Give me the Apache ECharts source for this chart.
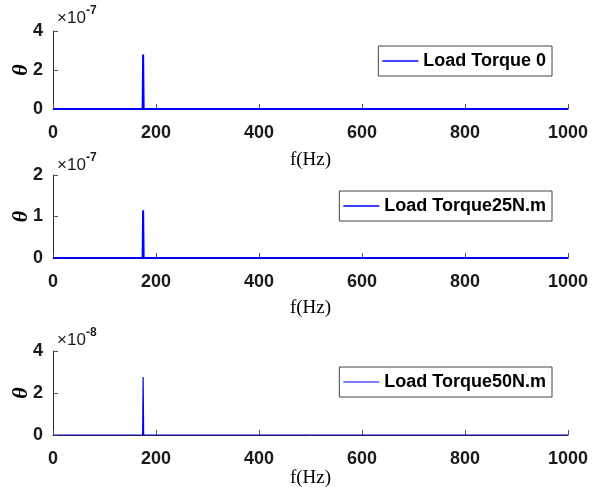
<!DOCTYPE html>
<html>
<head>
<meta charset="utf-8">
<script src="https://cdn.jsdelivr.net/npm/echarts@6/dist/echarts.min.js"></script>
<style>
  html, body { margin: 0; padding: 0; background: #fff; }
  #chart { width: 600px; height: 494px; }
</style>
</head>
<body>
<div id="chart"></div>
<script>
// Frequency samples (Hz) around the fundamental and its harmonics
const freqHz = [0, 174, 175, 176, 349, 350, 351, 524, 525, 526, 699, 700, 701, 874, 875, 876, 1000];

// Spectrum amplitude of theta for each load torque
const thetaLoad0  = [0, 0, 2.80e-7, 0, 0, 2.0e-9, 0, 0, 1.0e-9, 0, 0, 0.8e-9, 0, 0, 0.6e-9, 0, 0];
const thetaLoad25 = [0, 0, 1.15e-7, 0, 0, 2.5e-9, 0, 0, 1.0e-9, 0, 0, 0.8e-9, 0, 0, 0.6e-9, 0, 0];
const thetaLoad50 = [0, 0, 2.76e-8, 0, 0, 4.0e-10, 0, 0, 5.0e-10, 0, 0, 5.0e-10, 0, 0, 5.0e-10, 0, 0];

const seriesNames = ['Load Torque 0', 'Load Torque25N.m', 'Load Torque50N.m'];
const yMax = [4e-7, 2e-7, 4e-8];
const yStep = [2e-7, 1e-7, 2e-8];
const yScale = [1e-7, 1e-7, 1e-8];
const exponents = ['-7', '-7', '-8'];

const panels = [
  { top: 31,  height: 78, lw: 2,   legendTop: 46,  nameGap: 51, labelMargin: 15, expY: 20 },
  { top: 175, height: 83, lw: 2,   legendTop: 191, nameGap: 50, labelMargin: 15, expY: 167 },
  { top: 351, height: 84, lw: 1.2, legendTop: 367, nameGap: 43, labelMargin: 15, expY: 342 }
];
const dataSets = [thetaLoad0, thetaLoad25, thetaLoad50];

const axisColor = '#262626';
const sansBold = { fontFamily: 'Liberation Sans, Arial, sans-serif', fontWeight: 'bold', fontSize: 18, color: '#1a1a1a' };

const grids = [], xAxes = [], yAxes = [], series = [], legends = [], graphics = [];

panels.forEach((p, i) => {
  grids.push({ left: 53, right: 32, top: p.top, height: p.height, containLabel: false, outerBoundsMode: 'none' });
  xAxes.push({
    type: 'value', gridIndex: i, min: 0, max: 1000, interval: 200,
    name: 'f(Hz)', nameLocation: 'middle', nameGap: p.nameGap, nameMoveOverlap: false,
    nameTextStyle: { fontFamily: 'Liberation Serif, Times New Roman, serif', fontSize: 19, color: '#000', verticalAlign: 'middle' },
    axisLine: { show: true, lineStyle: { color: axisColor, width: 1 } },
    axisTick: { show: true, inside: true, length: 5, lineStyle: { color: '#555' } },
    axisLabel: Object.assign({ margin: p.labelMargin, formatter: v => String(v) }, sansBold),
    splitLine: { show: false }
  });
  yAxes.push({
    type: 'value', gridIndex: i, min: 0, max: yMax[i], interval: yStep[i],
    name: 'θ', nameLocation: 'middle', nameGap: 32, nameRotate: 90, nameMoveOverlap: false,
    nameTextStyle: { fontFamily: 'Liberation Serif, Times New Roman, serif', fontStyle: 'italic', fontWeight: 'bold', fontSize: 22, color: '#000', verticalAlign: 'middle' },
    axisLine: { show: true, lineStyle: { color: axisColor, width: 1 } },
    axisTick: { show: true, inside: true, length: 5, lineStyle: { color: '#555' } },
    axisLabel: Object.assign({ margin: 10, formatter: v => String(Math.round(v / yScale[i])) }, sansBold),
    splitLine: { show: false }
  });
  series.push({
    name: seriesNames[i], type: 'line', xAxisIndex: i, yAxisIndex: i,
    data: freqHz.map((f, k) => [f, dataSets[i][k]]),
    showSymbol: false, symbol: 'none', animation: false,
    lineStyle: { color: '#0000ff', width: p.lw },
    itemStyle: { color: '#0000ff' }
  });
  legends.push({
    data: [seriesNames[i]], right: 48, top: p.legendTop,
    padding: [6, 6, 6, 4], borderColor: '#444', borderWidth: 1, backgroundColor: '#fff',
    icon: 'rect', itemWidth: 36, itemHeight: p.lw === 2 ? 1.6 : 1.2, itemGap: 4, selectedMode: false,
    textStyle: Object.assign({}, sansBold, { color: '#000', padding: [0, 0, 0, 0] })
  });
  graphics.push({
    type: 'text', left: 57, top: p.expY - 10,
    style: { text: '×10', fontFamily: 'Liberation Sans, Arial, sans-serif', fontSize: 17, fill: '#1a1a1a' }
  });
  graphics.push({
    type: 'text', left: 86, top: p.expY - 15,
    style: { text: exponents[i], fontFamily: 'Liberation Sans, Arial, sans-serif', fontWeight: 'bold', fontSize: 12, fill: '#1a1a1a' }
  });
});

const chart = echarts.init(document.getElementById('chart'), null, { renderer: 'canvas' });
chart.setOption({
  backgroundColor: '#fff',
  animation: false,
  grid: grids, xAxis: xAxes, yAxis: yAxes, series: series, legend: legends, graphic: graphics
});
</script>
</body>
</html>
